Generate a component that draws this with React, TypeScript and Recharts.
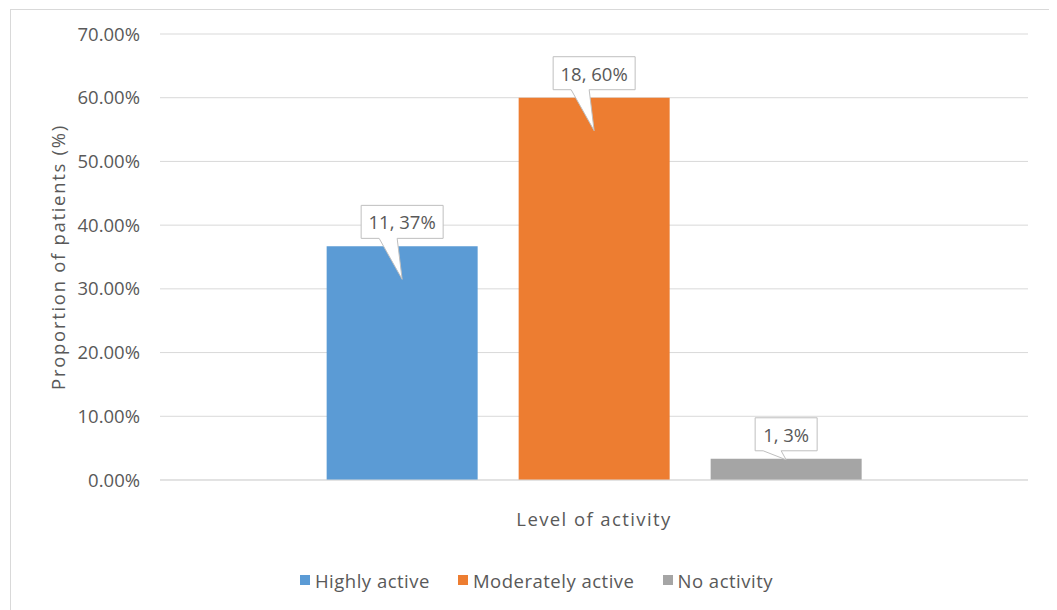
import React from 'react';
import { BarChart, Bar, XAxis, YAxis, CartesianGrid, Legend } from 'recharts';

const categories = [''];
const seriesNames = ['Highly active', 'Moderately active', 'No activity'];
const seriesKeys = ['highly', 'moderately', 'none'];
const patientCounts = [11, 18, 1];
const percentages = [36.67, 60.0, 3.33];
const seriesColors = ['#5B9BD5', '#ED7D31', '#A5A5A5'];
const yTicks = [0, 10, 20, 30, 40, 50, 60, 70];

const data = categories.map((c) => {
  const row: Record<string, any> = { category: c };
  seriesKeys.forEach((k, i) => {
    row[k] = percentages[i];
  });
  return row;
});

const FONT = '"Open Sans", sans-serif';
const TEXT = '#595959';
const FS = 18.5;

const makeCallout = (i: number) => (props: any) => {
  const { x, y, width, height } = props;
  const cx = x + width / 2;
  const top = y;
  const text = `${patientCounts[i]}, ${Math.round(percentages[i])}%`;
  const boxW = 10 * text.length + 12;
  const boxH = 33;
  const boxBottom = top - 8;
  const boxTop = boxBottom - boxH;
  const left = cx - boxW / 2;
  const right = cx + boxW / 2;
  const tipY = height > 60 ? top + 33 : top + 1;
  const tipX = cx;
  const d = `M${left},${boxTop} H${right} V${boxBottom} H${cx - 5} L${tipX},${tipY} L${cx - 23},${boxBottom} H${left} Z`;
  return (
    <g>
      <path d={d} fill="#ffffff" stroke="#BFBFBF" strokeWidth={1} />
      <text
        x={cx}
        y={boxTop + boxH / 2}
        textAnchor="middle"
        dominantBaseline="central"
        fill={TEXT}
        fontSize={FS}
        fontFamily={FONT}
      >
        {text}
      </text>
    </g>
  );
};

const renderLegend = () => (
  <div
    style={{
      height: 24,
      display: 'flex',
      justifyContent: 'center',
      alignItems: 'center',
      fontFamily: FONT,
      fontSize: FS,
      color: TEXT,
      letterSpacing: 0.5,
      paddingLeft: 34,
    }}
  >
    {seriesNames.map((n, i) => (
      <div key={n} style={{ display: 'flex', alignItems: 'center', marginRight: i < seriesNames.length - 1 ? 28 : 0 }}>
        <span style={{ display: 'inline-block', width: 10, height: 10, background: seriesColors[i], marginRight: 5 }} />
        <span>{n}</span>
      </div>
    ))}
  </div>
);

export default function App() {
  return (
    <div
      style={{
        position: 'relative',
        left: 2,
        top: 1,
        width: 1041,
        height: 603,
        border: '1px solid #D9D9D9',
        boxSizing: 'border-box',
        background: '#fff',
      }}
    >
      <BarChart
        width={1039}
        height={600}
        data={data}
        margin={{ top: 24, right: 22, left: 0, bottom: 18 }}
        barCategoryGap="19.2%"
        barGap={41}
      >
        <CartesianGrid vertical={false} stroke="#D9D9D9" />
        <XAxis
          dataKey="category"
          tick={false}
          tickLine={false}
          axisLine={{ stroke: '#D9D9D9' }}
          height={88}
          label={{
            value: 'Level of activity',
            position: 'insideTop',
            offset: 33,
            fill: TEXT,
            fontSize: FS,
            fontFamily: FONT,
            style: { letterSpacing: 1.4 },
          }}
        />
        <YAxis
          width={149}
          domain={[0, 70]}
          ticks={yTicks}
          tickFormatter={(v: number) => `${v.toFixed(2)}%`}
          axisLine={false}
          tickLine={false}
          tickSize={0}
          tickMargin={20}
          tick={{ fill: TEXT, fontSize: FS, fontFamily: FONT }}
          label={{
            value: 'Proportion of patients (%)',
            angle: -90,
            position: 'insideLeft',
            offset: 47,
            fill: TEXT,
            fontSize: FS,
            fontFamily: FONT,
            style: { textAnchor: 'middle', letterSpacing: 1.7 },
          }}
        />
        <Legend verticalAlign="bottom" content={renderLegend} />
        {seriesKeys.map((k, i) => (
          <Bar
            key={k}
            dataKey={k}
            name={seriesNames[i]}
            fill={seriesColors[i]}
            isAnimationActive={false}
            label={makeCallout(i)}
          />
        ))}
      </BarChart>
    </div>
  );
}
